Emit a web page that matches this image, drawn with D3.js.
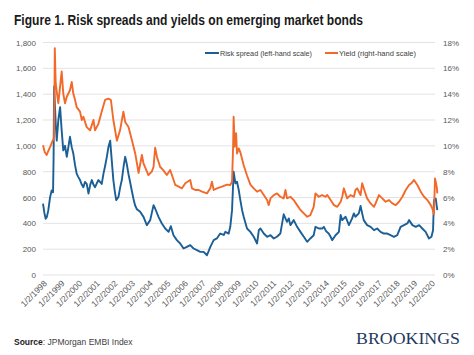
<!DOCTYPE html>
<html><head><meta charset="utf-8">
<script src="https://cdn.jsdelivr.net/npm/d3@7"></script>
<style>
html,body{margin:0;padding:0;background:#fff;}
svg{display:block;font-family:"Liberation Sans",Arial,sans-serif;}
</style></head>
<body>
<svg id="chart" width="474" height="355"></svg>
<script>
// ---- DATA ----
const spreadDates = [1998.00,1998.08,1998.15,1998.22,1998.30,1998.40,1998.49,1998.57,1998.60,1998.63,1998.68,1998.73,1998.78,1998.87,1998.97,1999.06,1999.15,1999.25,1999.35,1999.45,1999.53,1999.63,1999.72,1999.82,1999.91,2000.00,2000.10,2000.20,2000.29,2000.38,2000.48,2000.58,2000.68,2000.77,2000.86,2000.95,2001.05,2001.14,2001.24,2001.33,2001.43,2001.53,2001.62,2001.71,2001.81,2001.90,2001.99,2002.07,2002.15,2002.28,2002.38,2002.47,2002.57,2002.66,2002.75,2002.85,2002.94,2003.04,2003.13,2003.22,2003.32,2003.42,2003.51,2003.70,2003.89,2004.08,2004.27,2004.36,2004.55,2004.74,2004.93,2005.12,2005.25,2005.40,2005.59,2005.78,2005.97,2006.16,2006.35,2006.54,2006.73,2006.92,2007.11,2007.30,2007.49,2007.68,2007.86,2008.05,2008.25,2008.34,2008.53,2008.62,2008.72,2008.81,2008.91,2009.00,2009.10,2009.19,2009.29,2009.38,2009.57,2009.76,2009.95,2010.14,2010.24,2010.33,2010.52,2010.71,2010.90,2011.09,2011.27,2011.46,2011.65,2011.75,2011.84,2011.94,2012.03,2012.22,2012.41,2012.60,2012.79,2012.98,2013.16,2013.35,2013.45,2013.64,2013.83,2013.93,2014.05,2014.20,2014.31,2014.40,2014.59,2014.78,2014.88,2014.97,2015.16,2015.35,2015.53,2015.63,2015.72,2015.91,2016.01,2016.10,2016.19,2016.38,2016.58,2016.77,2016.95,2017.14,2017.33,2017.52,2017.71,2017.90,2018.09,2018.28,2018.47,2018.66,2018.76,2018.95,2019.14,2019.33,2019.51,2019.70,2019.89,2020.03,2020.12,2020.17,2020.27,2020.36];
const spreadValues = [552,480,435,450,500,600,655,640,900,1460,1300,1150,1040,1200,1300,1120,965,1000,915,1000,1070,990,940,850,785,760,735,700,680,720,705,630,700,735,700,680,710,735,720,705,785,850,915,990,1040,885,735,650,580,605,680,735,840,915,860,780,720,650,590,540,510,500,490,450,386,425,541,515,450,399,360,334,378,308,270,244,205,218,231,205,192,179,179,153,218,270,283,321,310,334,321,373,502,800,709,722,658,580,502,451,360,334,296,244,347,360,321,296,308,283,296,321,470,438,412,438,386,425,373,334,296,257,283,308,373,360,360,373,340,321,296,270,308,334,464,425,451,386,438,477,451,477,534,477,425,386,373,347,360,334,321,321,308,296,308,373,386,399,425,386,373,386,360,334,283,296,347,580,593,503];

const yieldDates = [1998.00,1998.10,1998.21,1998.30,1998.40,1998.55,1998.63,1998.67,1998.72,1998.78,1998.87,1998.97,1999.06,1999.15,1999.25,1999.35,1999.53,1999.63,1999.72,1999.82,1999.91,2000.10,2000.20,2000.29,2000.48,2000.67,2000.86,2000.95,2001.14,2001.33,2001.52,2001.71,2001.85,2001.99,2002.19,2002.37,2002.56,2002.66,2002.85,2002.94,2003.04,2003.23,2003.42,2003.61,2003.70,2003.98,2004.17,2004.27,2004.36,2004.46,2004.64,2004.83,2005.02,2005.21,2005.31,2005.50,2005.69,2005.88,2006.07,2006.35,2006.45,2006.64,2006.83,2007.02,2007.30,2007.49,2007.58,2007.68,2007.86,2008.15,2008.43,2008.62,2008.72,2008.78,2008.81,2008.87,2008.95,2009.00,2009.10,2009.19,2009.38,2009.57,2009.76,2009.95,2010.14,2010.33,2010.52,2010.71,2010.80,2010.90,2011.09,2011.27,2011.46,2011.65,2011.75,2011.84,2012.03,2012.22,2012.41,2012.60,2012.79,2012.98,2013.16,2013.35,2013.45,2013.64,2013.83,2014.01,2014.12,2014.31,2014.50,2014.69,2014.88,2014.97,2015.06,2015.25,2015.44,2015.63,2015.72,2015.82,2016.01,2016.10,2016.19,2016.38,2016.58,2016.77,2016.86,2017.05,2017.24,2017.43,2017.62,2017.81,2018.00,2018.19,2018.38,2018.57,2018.76,2018.89,2019.04,2019.23,2019.42,2019.61,2019.80,2019.99,2020.08,2020.17,2020.23,2020.29,2020.34,2020.36];
const yieldValues = [10.05,9.5,9.3,9.6,9.9,10.4,10.6,17.55,14.85,14.2,13.3,14.6,15.75,14.05,13.3,13.8,14.3,14.95,14.05,13.55,13.0,12.65,12.0,12.25,11.45,11.2,12.0,11.2,11.7,12.65,13.55,13.65,13.55,12.0,10.4,11.2,12.65,11.85,11.45,10.97,10.45,9.41,7.9,9.29,8.64,7.74,8.0,8.38,9.85,9.16,8.38,8.1,7.74,8.13,7.74,6.97,6.84,6.71,7.1,7.36,6.71,6.58,6.58,6.45,6.32,6.71,7.23,6.58,6.71,6.84,7.0,6.97,7.23,9.93,12.25,9.93,10.97,9.41,9.8,9.5,8.5,7.7,7.0,6.71,6.45,6.58,6.19,5.8,5.41,5.93,6.19,6.32,6.06,5.93,6.58,5.93,6.06,5.8,5.41,5.03,4.77,4.51,4.64,5.28,6.32,6.06,6.19,6.06,6.19,5.8,5.41,5.28,5.67,6.06,6.71,5.93,6.19,6.06,6.58,6.71,6.19,7.1,6.71,5.93,5.54,5.28,5.54,6.19,5.93,5.67,5.8,5.54,5.41,5.67,6.06,6.58,6.97,7.1,7.36,6.97,6.45,6.06,5.8,5.41,5.15,4.7,7.48,7.1,6.71,6.32,5.93];

const leftTicks = [0,200,400,600,800,1000,1200,1400,1600,1800];
const rightTicks = [0,2,4,6,8,10,12,14,16,18];
const tickYears = d3.range(1998, 2021);
const seriesNames = ["Risk spread (left-hand scale)", "Yield (right-hand scale)"];
const colors = ["#1b5f96", "#f2692a"];

// ---- helpers ----
function decToDate(d){
  const y = Math.floor(d);
  const start = new Date(y,0,1), end = new Date(y+1,0,1);
  return new Date(start.getTime() + (d-y)*(end-start));
}

const svg = d3.select("#chart");
const plotLeft = 43, plotRight = 436, plotTop = 42.5, plotBottom = 275;

const x = d3.scaleTime().domain([new Date(1998,0,1), new Date(2020,3,15)]).range([plotLeft, plotRight]);
const yL = d3.scaleLinear().domain([0,1800]).range([plotBottom, plotTop]);
const yR = d3.scaleLinear().domain([0,18]).range([plotBottom, plotTop]);

// title
svg.append("text").attr("x",14).attr("y",25)
  .attr("font-size",14).attr("font-weight","bold").attr("fill","#1a1a1a")
  .attr("textLength",349).attr("lengthAdjust","spacingAndGlyphs")
  .text("Figure 1. Risk spreads and yields on emerging market bonds");

// gridlines
svg.append("g").selectAll("line").data(leftTicks).join("line")
  .attr("x1",plotLeft).attr("x2",435)
  .attr("y1",d=>yL(d)).attr("y2",d=>yL(d))
  .attr("stroke","#e3e3e3").attr("stroke-width",1);

// left axis
const gL = svg.append("g").attr("transform",`translate(${plotLeft},0)`)
  .call(d3.axisLeft(yL).tickValues(leftTicks).tickSize(0).tickPadding(7).tickFormat(d3.format(",")));
gL.select(".domain").remove();
gL.selectAll("text").attr("font-size",8).attr("fill","#595959").attr("font-family","Liberation Sans, Arial, sans-serif");

// right axis
const gR = svg.append("g").attr("transform",`translate(435,0)`)
  .call(d3.axisRight(yR).tickValues(rightTicks).tickSize(0).tickPadding(8).tickFormat(d=>d+"%"));
gR.select(".domain").remove();
gR.selectAll("text").attr("font-size",8).attr("fill","#595959").attr("font-family","Liberation Sans, Arial, sans-serif");

// x axis labels
const xTicks = tickYears.map(y=>new Date(y,0,2));
const gX = svg.append("g").attr("transform",`translate(0,${plotBottom})`)
  .call(d3.axisBottom(x).tickValues(xTicks).tickSize(0).tickFormat(d=>`1/2/${d.getFullYear()}`));
gX.select(".domain").remove();
gX.selectAll("text")
  .attr("font-size",8.5).attr("fill","#595959").attr("font-family","Liberation Sans, Arial, sans-serif")
  .attr("text-anchor","end").attr("dy",0).attr("y",0)
  .attr("transform","translate(4,9) rotate(-45)");

// lines
const spreadData = spreadDates.map((d,i)=>({date:decToDate(d), v:spreadValues[i]}));
const yieldData = yieldDates.map((d,i)=>({date:decToDate(d), v:yieldValues[i]}));

svg.append("path").datum(spreadData)
  .attr("fill","none").attr("stroke",colors[0]).attr("stroke-width",1.9).attr("stroke-linejoin","round")
  .attr("d", d3.line().x(d=>x(d.date)).y(d=>yL(d.v)));
svg.append("path").datum(yieldData)
  .attr("fill","none").attr("stroke",colors[1]).attr("stroke-width",1.9).attr("stroke-linejoin","round")
  .attr("d", d3.line().x(d=>x(d.date)).y(d=>yR(d.v)));

// legend
const legend = [
  {x1:205, x2:219, tx:220, w:92},
  {x1:325, x2:338, tx:339, w:77}
];
legend.forEach((l,i)=>{
  svg.append("line").attr("x1",l.x1).attr("x2",l.x2).attr("y1",53).attr("y2",53)
    .attr("stroke",colors[i]).attr("stroke-width",2);
  svg.append("text").attr("x",l.tx).attr("y",56).attr("font-size",8).attr("fill","#404040")
    .attr("textLength",l.w).attr("lengthAdjust","spacingAndGlyphs")
    .text(seriesNames[i]);
});

// source
const src = svg.append("text").attr("x",14).attr("y",345).attr("font-size",8.5).attr("fill","#404040");
src.append("tspan").attr("font-weight","bold").attr("fill","#1a1a1a").text("Source");
src.append("tspan").text(": JPMorgan EMBI Index");

// logo
svg.append("text").attr("x",356).attr("y",344)
  .attr("font-family","Liberation Serif, Times New Roman, serif").attr("font-size",16.5)
  .attr("fill","#1f3a5f").attr("textLength",104).attr("lengthAdjust","spacingAndGlyphs")
  .text("BROOKINGS");
</script>
</body></html>
